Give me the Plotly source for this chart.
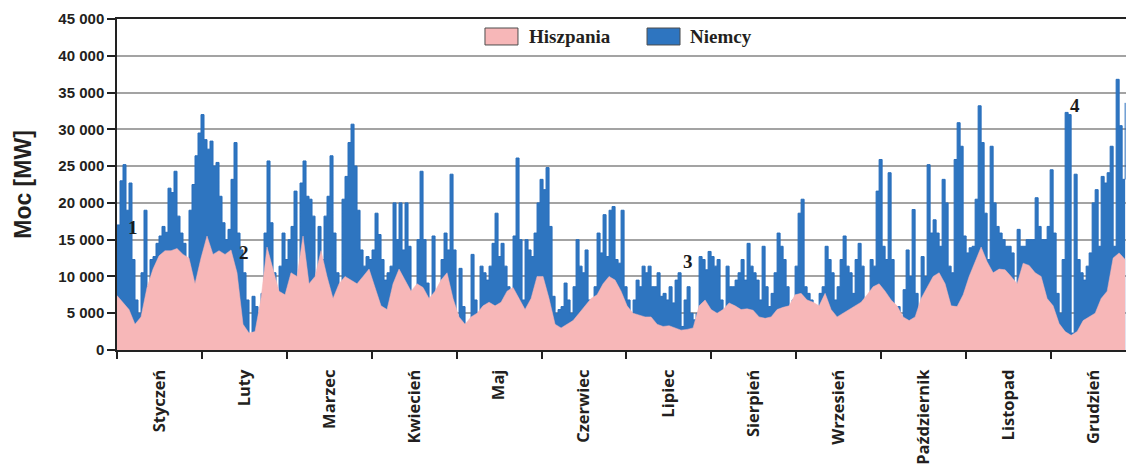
import numpy as np
import plotly.graph_objects as go

# Month names (x-axis labels, one per month, equal widths)
miesiace = ["Styczeń", "Luty", "Marzec", "Kwiecień", "Maj", "Czerwiec",
            "Lipiec", "Sierpień", "Wrzesień", "Październik", "Listopad", "Grudzień"]

# Portion of the year visible in the picture, in months
widoczne_miesiace = 11.873

# Germany (blue) - upper envelope of the hourly wind power, MW, read every ~3 px
niemcy = [
    17000, 23000, 25200, 19000, 22700, 12300, 6800, 5000, 10500, 19000,
    8600, 12300, 12700, 14500, 15500, 16800, 16000, 22000, 21400, 24300,
    18200, 15900, 14500, 7300, 19000, 22500, 26400, 29500, 32000, 28600,
    27300, 28400, 25000, 25500, 20900, 17300, 15000, 16400, 23200, 28200,
    15900, 13600, 10500, 6800, 1400, 7300, 5900, 2300, 7700, 15900,
    25700, 17300, 10500, 5900, 11400, 15900, 12300, 15000, 16800, 21600,
    5900, 22700, 25700, 20900, 20500, 18200, 6800, 16800, 12300, 18200,
    20900, 26400, 15900, 10500, 8600, 20500, 23600, 28200, 30700, 25000,
    19000, 13600, 11400, 12700, 12300,
    13600, 18600, 15700, 12300, 9500, 10500, 11400, 20000, 15000, 20000,
    13600, 20000, 14100, 5000, 2300, 15000, 24300, 15000, 9100, 6800,
    15500, 6800, 4500, 12300, 15900, 13600, 23900, 13600, 4500, 11100,
    5900, 2300, 3200, 13000, 6800, 4500, 11400, 10500, 9500, 11400,
    14500, 18600, 12700, 14500, 11400, 8600, 2700, 15500, 26100, 15000,
    6800, 15000, 13600, 12700, 15900, 20000, 23200, 21800, 24800, 16800,
    7300, 5000, 5500, 5900, 9100, 6800, 5000, 8600, 15000, 11400,
    10500, 13600, 6800, 5900, 8600, 15900, 13200, 18400, 12700, 19000,
    19500, 12300, 11800,
    19000, 8600, 6800, 5000, 6800, 9500, 8600, 11400, 10500, 11400,
    8600, 8600, 10500, 7300, 7700, 6800, 8600, 6400, 9500, 10500,
    3200, 6800, 8600, 5000, 4100, 5000, 12700, 12300, 10900, 13400,
    12700, 11400, 12300, 6800, 5000, 11400, 8600, 8600, 9500, 10500,
    12300, 9500, 14500, 11400, 10500, 9500, 6800, 14100, 8600, 5900,
    7700, 10500, 15900, 14100, 12300, 8600, 5900, 6800, 11400, 18600,
    20500, 8600, 7700, 6800, 5900, 5000, 7700, 8600, 14100, 12300,
    10500, 6800, 8600, 12300, 15500, 11400, 10500, 7700, 12300, 14500,
    11400, 5900, 6800, 12300,
    11400, 21600, 25900, 14100, 12300, 24100, 12300, 5000, 5900, 4100,
    8200, 13600, 10000, 19100, 7700, 5000, 12700, 10000, 25200, 15900,
    17700, 15900, 14100, 23200, 20000, 11400, 10500, 25900, 30900, 27700,
    15500, 13200, 13900, 14100, 20500, 33200, 28200, 18600, 12300, 27700,
    20000, 16800, 15900, 15000, 14100, 14100, 13200, 7700, 16400, 14100,
    14100, 15000, 15000, 15000, 20700, 16800, 15000, 15000, 16800, 24500,
    15900, 7700, 5000, 12300, 32300, 32000, 2300, 23900, 12300, 10500,
    9500, 11400, 13200, 20000, 21800, 14100, 23600, 22700, 24100, 27700,
    14100, 36800, 30500, 23200, 33600,
]

# Spain (pink) - wind power, MW, read every ~6 px
hiszpania = [
    7400, 6500, 5500, 3500, 4500, 8500, 11000, 12800, 13500, 13500,
    13800, 13000, 12500, 9000, 12500, 15500, 13000, 13500, 13000, 13600,
    10500, 3500, 2300, 2500, 7000, 14000, 11000, 8000, 7500, 10500,
    10000, 15500, 9000, 10000, 13500, 10000, 7000, 9000, 10000, 9500,
    9000, 10000, 11000,
    8500, 6000, 5500, 9000, 11000, 9500, 8000, 9000, 8500, 7000,
    8000, 9500, 10500, 7000, 4500, 3500, 4500, 5000, 6000, 6500,
    6000, 6500, 8000, 8500, 7000, 5500, 7000, 10000, 10000, 7000,
    3500, 3000, 3500, 4000, 5000, 6000, 7000, 7500, 9000, 10000,
    9500, 8000,
    6000, 5000, 4800, 4500, 4500, 3500, 3200, 3300, 3000, 2700,
    2800, 3000, 6000, 6800, 5500, 5000, 5500, 6400, 6000, 5500,
    5600, 5400, 4500, 4300, 4500, 5500, 5800, 6000, 7500, 7700,
    6800, 6500, 6000, 7700, 5500, 4500, 5000, 5500, 6000, 6500,
    7500, 8600, 9000, 8000, 6800, 6000, 4500, 4000, 4500, 7000,
    8500, 10000, 10500, 9000, 6000, 5900, 7500, 10000, 12000, 14000,
    12000, 10500, 11000, 10900, 10000, 9000, 11800, 11500, 10500, 10000,
    7000, 6000, 3600, 2500, 2000, 2500, 4000, 4500, 5000, 7000,
    8000, 12500, 13200, 12300,
]

# Numbered markers on the chart: label, month position, MW level
etykiety = ["1", "2", "3", "4"]
etykiety_x = [0.19, 1.50, 6.73, 11.28]
etykiety_y = [16700, 13300, 12100, 33300]

x_de = np.linspace(0, widoczne_miesiace, len(niemcy))
x_es = np.linspace(0, widoczne_miesiace, len(hiszpania))

BLUE = "rgb(46,117,192)"
PINK = "rgb(247,183,184)"

fig = go.Figure()
fig.add_trace(go.Scatter(
    x=x_de, y=niemcy, name="Niemcy", mode="lines",
    line=dict(color="rgb(40,110,188)", width=1, shape="hv"),
    fill="tozeroy", fillcolor=BLUE, showlegend=False, xaxis="x", yaxis="y",
))
fig.add_trace(go.Scatter(
    x=x_es, y=hiszpania, name="Hiszpania", mode="lines",
    line=dict(color=PINK, width=0.5),
    fill="tozeroy", fillcolor=PINK, showlegend=False, xaxis="x2", yaxis="y",
))

for t, xv, yv in zip(etykiety, etykiety_x, etykiety_y):
    fig.add_annotation(x=xv, y=yv, xref="x", yref="y", text=t, showarrow=False,
                       font=dict(family="Liberation Serif", size=19, color="#1a1a1a",
                                 weight="bold"))

# Manual legend (swatches with border + serif labels)
legend_items = [("Hiszpania", PINK, 0.3647, 0.4063), ("Niemcy", BLUE, 0.5253, 0.5659)]
for nazwa, kolor, x0, xt in legend_items:
    fig.add_shape(type="rect", xref="paper", yref="paper",
                  x0=x0, x1=x0 + 0.0327, y0=0.9215, y1=0.9728,
                  fillcolor=kolor, line=dict(color="#4d4d4d", width=1))
    fig.add_annotation(x=xt, y=0.947, xref="paper", yref="paper", text=nazwa,
                       showarrow=False, xanchor="left", yanchor="middle",
                       font=dict(family="Liberation Serif", size=19, color="#231f20",
                                 weight="bold"))

fig.update_layout(
    width=1126, height=469,
    margin=dict(l=117, r=0, t=19, b=119),
    paper_bgcolor="white", plot_bgcolor="white",
    separators=", ",
    showlegend=False,
    xaxis=dict(
        range=[0, 11.883], tickvals=list(range(12)), ticktext=[""] * 12,
        ticks="outside", ticklen=7, tickwidth=1.5, tickcolor="#222",
        showline=True, linecolor="#222", linewidth=1.5, mirror=True,
        showgrid=False, zeroline=False,
    ),
    xaxis2=dict(
        overlaying="x", matches="x", range=[0, 11.883], side="bottom",
        tickvals=[i + 0.5 for i in range(12)], ticktext=miesiace, tickangle=-90,
        ticks="outside", ticklen=12, tickcolor="rgba(0,0,0,0)",
        showline=False, showgrid=False, zeroline=False,
        tickfont=dict(family="Open Sans", size=16.5, color="#231f20", weight="bold"),
    ),
    yaxis=dict(
        range=[0, 45000], tickvals=list(range(0, 45001, 5000)), tickformat=",d",
        ticks="outside", ticklen=8, tickwidth=1.5, tickcolor="#222",
        showline=True, linecolor="#222", linewidth=1.5,
        showgrid=True, gridcolor="#a3a3a3", gridwidth=1.5, zeroline=False,
        tickfont=dict(family="Liberation Sans", size=15, color="#231f20", weight="bold"),
        title=dict(text="Moc [MW]", standoff=20,
                   font=dict(family="Liberation Sans", size=23, color="#231f20",
                             weight="bold")),
    ),
)

fig.write_html("out.html")
